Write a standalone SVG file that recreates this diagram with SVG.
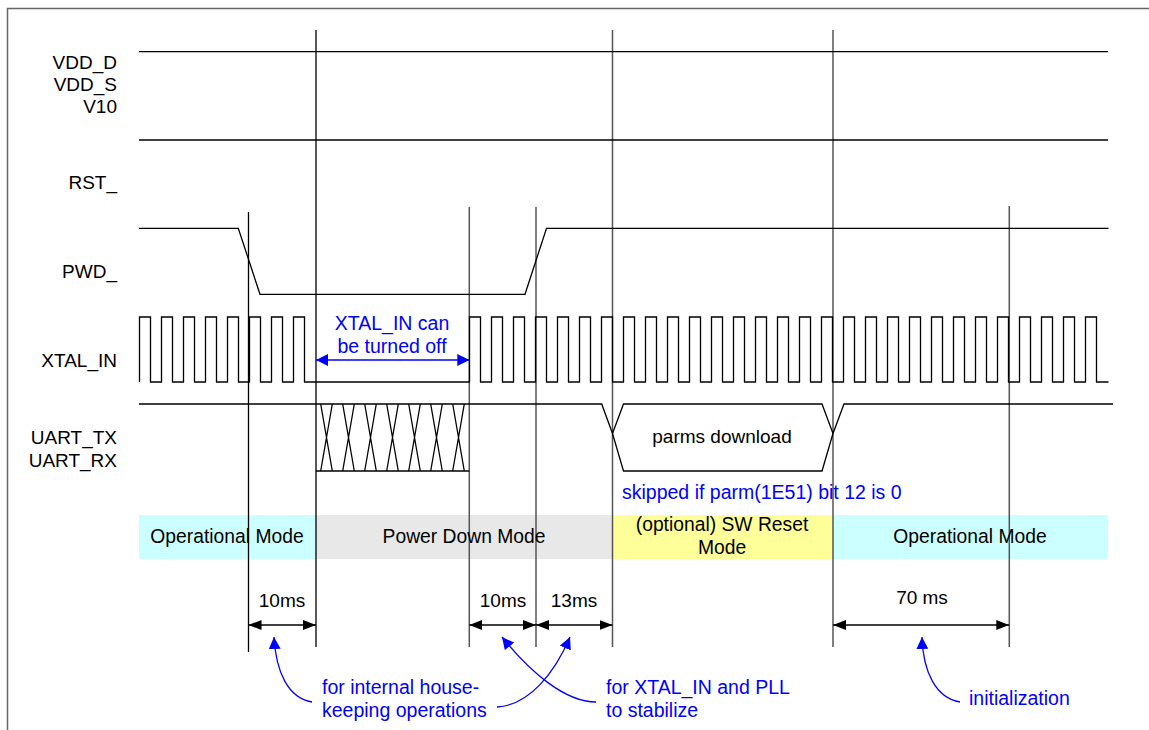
<svg xmlns="http://www.w3.org/2000/svg" width="1149" height="730" viewBox="0 0 1149 730">
<style>
.lbl{font-family:"Liberation Sans",Arial,sans-serif;font-size:19px;fill:#000;text-anchor:end}
.txt{font-family:"Liberation Sans",Arial,sans-serif;font-size:19px;fill:#000;text-anchor:middle}
.mode{font-family:"Liberation Sans",Arial,sans-serif;font-size:19.3px;fill:#000;text-anchor:middle}
.blue{font-family:"Liberation Sans",Arial,sans-serif;font-size:19.5px;fill:#0000FF}
.sig{fill:none;stroke:#000;stroke-width:1.3}
.vl{stroke:#000;stroke-width:1.3}
.vg{stroke:#555;stroke-width:1.5}
.dim{stroke:#000;stroke-width:1.3;marker-start:url(#ah);marker-end:url(#ah)}
.call{fill:none;stroke:#0000FF;stroke-width:1.3;marker-end:url(#bh)}
</style>
<defs>
<marker id="ah" viewBox="0 0 13 10" refX="13" refY="5" markerWidth="13" markerHeight="10" markerUnits="userSpaceOnUse" orient="auto-start-reverse"><path d="M0,0 L13,5 L0,10 z" fill="#000"/></marker>
<marker id="bh" viewBox="0 0 12 12" refX="12" refY="6" markerWidth="12" markerHeight="12" markerUnits="userSpaceOnUse" orient="auto-start-reverse"><path d="M0,0 L12,6 L0,12 z" fill="#0000FF"/></marker>
</defs>
<rect x="0" y="0" width="1149" height="730" fill="#fff"/>
<g id="frame"><path d="M7.5,730 V8.5 H1149" fill="none" stroke="#666" stroke-width="1.5"/></g>

<g id="modes">
<rect x="139" y="515" width="176" height="44" fill="#CCFFFF"/>
<rect x="315" y="515" width="298" height="44" fill="#E8E8E8"/>
<rect x="613" y="515" width="220" height="44" fill="#FFFF99"/>
<rect x="833" y="515" width="275" height="44" fill="#CCFFFF"/>
</g>

<g id="markers">
<line class="vl" x1="316" y1="30" x2="316" y2="647"/>
<line class="vg" x1="612.5" y1="30" x2="612.5" y2="647"/>
<line class="vg" x1="833" y1="30" x2="833" y2="647"/>
<line class="vl" x1="248.5" y1="212" x2="248.5" y2="652"/>
<line class="vg" x1="469.3" y1="207" x2="469.3" y2="647"/>
<line class="vg" x1="536" y1="207" x2="536" y2="647"/>
<line class="vg" x1="1009.3" y1="206" x2="1009.3" y2="647"/>
</g>

<g id="vdd">
<text class="lbl" x="117" y="69">VDD_D</text>
<text class="lbl" x="117" y="91">VDD_S</text>
<text class="lbl" x="117" y="113">V10</text>
<line class="sig" x1="139" y1="51.7" x2="1108" y2="51.7" stroke="#444"/>
</g>

<g id="rst">
<text class="lbl" x="117" y="189">RST_</text>
<line class="sig" x1="139" y1="140" x2="1108" y2="140" stroke="#444"/>
</g>

<g id="pwd">
<text class="lbl" x="117" y="278">PWD_</text>
<path class="sig" d="M139,228.3 H238.3 L260,294.3 H525 L546.5,228.3 H1108.5"/>
</g>

<g id="xtal">
<text class="lbl" x="117" y="367">XTAL_IN</text>
<path class="sig" d="M139.5,382 V317 H150.5 V382 H161.5 V317 H172.5 V382 H183.5 V317 H194.5 V382 H205.5 V317 H216.5 V382 H227.5 V317 H238.5 V382 H249.5 V317 H260.5 V382 H271.5 V317 H282.5 V382 H293.5 V317 H304.5 V382 H469.5 V317 H480.5 V382 H491.5 V317 H502.5 V382 H513.5 V317 H524.5 V382 H535.5 V317 H546.5 V382 H557.5 V317 H568.5 V382 H579.5 V317 H590.5 V382 H601.5 V317 H612.5 V382 H623.5 V317 H634.5 V382 H645.5 V317 H656.5 V382 H667.5 V317 H678.5 V382 H689.5 V317 H700.5 V382 H711.5 V317 H722.5 V382 H733.5 V317 H744.5 V382 H755.5 V317 H766.5 V382 H777.5 V317 H788.5 V382 H799.5 V317 H810.5 V382 H821.5 V317 H832.5 V382 H843.5 V317 H854.5 V382 H865.5 V317 H876.5 V382 H887.5 V317 H898.5 V382 H909.5 V317 H920.5 V382 H931.5 V317 H942.5 V382 H953.5 V317 H964.5 V382 H975.5 V317 H986.5 V382 H997.5 V317 H1008.5 V382 H1019.5 V317 H1030.5 V382 H1041.5 V317 H1052.5 V382 H1063.5 V317 H1074.5 V382 H1085.5 V317 H1096.5 V382 H1108.5"/>
<text class="blue" x="392" y="330" text-anchor="middle">XTAL_IN can</text>
<text class="blue" x="392" y="353" text-anchor="middle">be turned off</text>
<line x1="316" y1="360" x2="469.3" y2="360" stroke="#0000FF" stroke-width="1.3" marker-start="url(#bh)" marker-end="url(#bh)"/>
</g>

<g id="uart">
<text class="lbl" x="117" y="444">UART_TX</text>
<text class="lbl" x="117" y="467">UART_RX</text>
<path class="sig" d="M139,404 H601.7 L612.5,433.5 M316,471 H469.3 M623.5,404 H822 L833,433.5 L822,471 H623.5 L612.5,433.5 Z M833,433.5 L844,404 H1113"/>
<path class="sig" d="M320.7,404 L332.3,471 M332.3,404 L320.7,471 M342.7,404 L354.3,471 M354.3,404 L342.7,471 M364.7,404 L376.3,471 M376.3,404 L364.7,471 M386.7,404 L398.3,471 M398.3,404 L386.7,471 M408.7,404 L420.3,471 M420.3,404 L408.7,471 M430.7,404 L442.3,471 M442.3,404 L430.7,471 M452.7,404 L464.3,471 M464.3,404 L452.7,471"/>
<text class="txt" x="722" y="443">parms download</text>
<text class="blue" x="622" y="499">skipped if parm(1E51) bit 12 is 0</text>
</g>

<g id="mode-labels">
<text class="mode" x="227" y="543">Operational Mode</text>
<text class="mode" x="464" y="543">Power Down Mode</text>
<text class="mode" x="722" y="531">(optional) SW Reset</text>
<text class="mode" x="722" y="554">Mode</text>
<text class="mode" x="970" y="543">Operational Mode</text>
</g>

<g id="connectors">
<line class="dim" x1="248.5" y1="625" x2="316" y2="625"/>
<line class="dim" x1="469.3" y1="625" x2="536" y2="625"/>
<line class="dim" x1="536" y1="625" x2="612.5" y2="625"/>
<line class="dim" x1="833" y1="625" x2="1009.3" y2="625"/>
<path class="call" d="M312,702 C288,698 276,672 274,637"/>
<path class="call" d="M497,707 C530,705 555,672 570,637"/>
<path class="call" d="M596,702 C565,702 530,672 502,637"/>
<path class="call" d="M960,702 C936,698 923,672 922,637"/>
</g>

<g id="dim-labels">
<text class="txt" x="282" y="607">10ms</text>
<text class="txt" x="503" y="607">10ms</text>
<text class="txt" x="574" y="607">13ms</text>
<text class="txt" x="922" y="604">70 ms</text>
</g>

<g id="notes">
<text class="blue" x="322" y="694">for internal house-</text>
<text class="blue" x="322" y="717">keeping operations</text>
<text class="blue" x="606" y="694">for XTAL_IN and PLL</text>
<text class="blue" x="606" y="717">to stabilize</text>
<text class="blue" x="969" y="705">initialization</text>
</g>
</svg>
